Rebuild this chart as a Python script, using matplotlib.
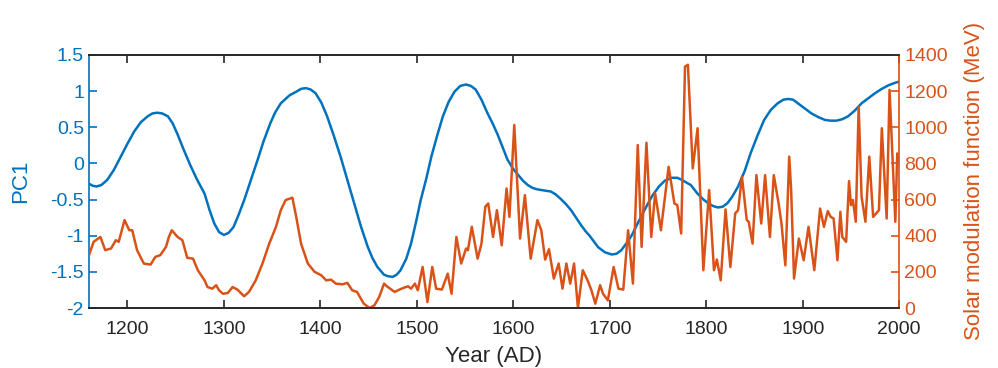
import numpy as np
import matplotlib
matplotlib.use('Agg')
from matplotlib import pyplot as plt

plt.rcParams['font.family'] = ['Liberation Sans', 'DejaVu Sans']

# PC1 (left axis)
pc_year = [1160, 1164, 1168, 1173, 1179, 1186, 1193, 1200, 1207, 1214,
           1221, 1226, 1231, 1236, 1242, 1247, 1252, 1258, 1265, 1272,
           1280, 1285, 1290, 1295, 1300, 1305, 1310, 1315, 1321, 1328,
           1335, 1341, 1348, 1353, 1359, 1368, 1375, 1380, 1385, 1390,
           1395, 1401, 1407, 1414, 1421, 1428, 1435, 1442, 1449, 1454,
           1459, 1466, 1470, 1475, 1479, 1483, 1489, 1494, 1499, 1504,
           1510, 1515, 1521, 1527, 1533, 1539, 1545, 1551, 1556, 1561,
           1567, 1573, 1579, 1584, 1589, 1594, 1600, 1605, 1610, 1615,
           1620, 1625, 1632, 1639, 1644, 1649, 1655, 1660, 1665, 1670,
           1675, 1679, 1684, 1688, 1695, 1702, 1707, 1712, 1717, 1723,
           1730, 1737, 1744, 1751, 1757, 1764, 1770, 1775, 1780, 1784,
           1791, 1797, 1802, 1807, 1812, 1817, 1822, 1827, 1833, 1840,
           1846, 1853, 1860, 1867, 1874, 1880, 1885, 1890, 1895, 1902,
           1909, 1916, 1923, 1929, 1935, 1941, 1947, 1954, 1961, 1968,
           1975, 1982, 1989, 1995, 2000]
pc1 = [-0.28, -0.31, -0.32, -0.30, -0.23, -0.09, 0.09, 0.27, 0.44, 0.57,
       0.65, 0.69, 0.70, 0.69, 0.65, 0.55, 0.40, 0.20, -0.02, -0.22,
       -0.42, -0.64, -0.83, -0.95, -0.99, -0.96, -0.88, -0.72, -0.51, -0.23,
       0.05, 0.30, 0.55, 0.70, 0.83, 0.94, 0.99, 1.03, 1.04, 1.02,
       0.97, 0.84, 0.65, 0.38, 0.09, -0.23, -0.55, -0.87, -1.15, -1.31,
       -1.43, -1.54, -1.56, -1.57, -1.54, -1.48, -1.32, -1.11, -0.82, -0.51,
       -0.20, 0.09, 0.38, 0.65, 0.85, 0.99, 1.07, 1.09, 1.07, 1.02,
       0.88, 0.70, 0.54, 0.39, 0.22, 0.05, -0.08, -0.16, -0.24, -0.30,
       -0.34, -0.36, -0.375, -0.39, -0.43, -0.49, -0.57, -0.65, -0.75, -0.85,
       -0.94, -1.00, -1.09, -1.16, -1.23, -1.26, -1.25, -1.20, -1.11, -0.99,
       -0.80, -0.62, -0.45, -0.32, -0.24, -0.20, -0.20, -0.23, -0.27, -0.30,
       -0.42, -0.50, -0.55, -0.59, -0.61, -0.60, -0.55, -0.46, -0.32, -0.10,
       0.14, 0.38, 0.60, 0.74, 0.83, 0.88, 0.89, 0.88, 0.83, 0.76,
       0.69, 0.64, 0.60, 0.59, 0.59, 0.61, 0.65, 0.73, 0.83, 0.90,
       0.97, 1.03, 1.08, 1.11, 1.13]

# solar modulation function (right axis, MeV)
sm_year = [1160, 1165, 1172, 1177, 1183, 1188, 1191, 1197, 1202, 1205,
           1210, 1217, 1224, 1229, 1234, 1240, 1243, 1246, 1252, 1257,
           1262, 1268, 1273, 1280, 1283, 1288, 1292, 1295, 1299, 1304,
           1309, 1314, 1321, 1326, 1333, 1340, 1347, 1354, 1359, 1364,
           1371, 1375, 1380, 1387, 1394, 1401, 1406, 1411, 1416, 1423,
           1428, 1433, 1438, 1445, 1451, 1456, 1461, 1466, 1469, 1477,
           1482, 1487, 1491, 1494, 1498, 1501, 1506, 1511, 1516, 1520,
           1526, 1532, 1536, 1541, 1546, 1551, 1553, 1557, 1563, 1567,
           1571, 1574, 1579, 1583, 1588, 1593, 1596, 1601, 1607, 1612,
           1618, 1625, 1629, 1633, 1637, 1642, 1647, 1651, 1655, 1659,
           1663, 1667, 1672, 1677, 1681, 1685, 1690, 1693, 1698, 1704,
           1709, 1714, 1719, 1724, 1729, 1733, 1738, 1743, 1747, 1753,
           1761, 1767, 1770, 1774, 1778, 1781, 1786, 1791, 1797, 1803,
           1808, 1811, 1815, 1820, 1825, 1830, 1833, 1837, 1842, 1844,
           1848, 1852, 1857, 1861, 1866, 1870, 1875, 1878, 1882, 1886,
           1888, 1891, 1896, 1901, 1906, 1912, 1918, 1922, 1926, 1929,
           1932, 1936, 1939, 1941, 1945, 1948, 1950, 1952, 1955, 1958,
           1961, 1965, 1969, 1973, 1979, 1982, 1987, 1990, 1994, 1996,
           1998, 2000]
smf = [290, 366, 393, 320, 329, 375, 366, 486, 430, 430,
       320, 246, 240, 283, 292, 338, 393, 430, 393, 375,
       278, 273, 209, 153, 116, 107, 126, 98, 79, 83,
       116, 102, 65, 89, 153, 246, 356, 449, 541, 597,
       610, 504, 356, 246, 200, 181, 153, 157, 135, 131,
       139, 98, 89, 24, 0, 15, 61, 135, 120, 89,
       102, 113, 120, 107, 135, 98, 227, 33, 227, 107,
       102, 190, 79, 393, 246, 329, 320, 449, 273, 356,
       560, 578, 393, 541, 347, 661, 504, 1012, 384, 624,
       273, 486, 430, 268, 325, 163, 246, 107, 246, 135,
       246, 0, 209, 153, 98, 24, 126, 79, 42, 227,
       107, 102, 430, 135, 901, 338, 914, 393, 634, 430,
       781, 578, 569, 412, 1335, 1345, 772, 994, 209, 652,
       209, 268, 153, 545, 227, 523, 541, 726, 486, 477,
       356, 735, 467, 735, 393, 735, 578, 467, 236, 837,
       652, 163, 384, 264, 449, 209, 550, 449, 536, 504,
       495, 264, 532, 393, 366, 702, 569, 597, 477, 1114,
       615, 477, 837, 504, 541, 994, 495, 1206, 726, 477,
       855, 800]

blue = '#0072BD'
orange = '#D95319'
dark = '#262626'

fig, ax1 = plt.subplots(figsize=(9.98, 3.68), dpi=100)
fig.subplots_adjust(left=0.089, right=0.901, bottom=0.163, top=0.851)
ax2 = ax1.twinx()

ax1.plot(pc_year, pc1, color=blue, lw=1.8, solid_joinstyle='round')
ax2.plot(sm_year, smf, color=orange, lw=1.8, solid_joinstyle='round')

ax1.set_xlim(1160, 2000)
ax1.set_ylim(-2, 1.5)
ax2.set_ylim(0, 1400)

ax1.set_xticks(np.arange(1200, 2001, 100))
yt = np.arange(-2, 1.51, 0.5)
ax1.set_yticks(yt)
ax1.set_yticklabels(['%g' % v for v in yt])
ax2.set_yticks(np.arange(0, 1401, 200))

ax1.tick_params(axis='x', direction='in', top=True, length=6, width=1.2,
                colors=dark, labelsize=14, pad=9)
ax1.tick_params(axis='y', direction='in', length=6, width=1.2,
                colors=blue, labelsize=14)
ax2.tick_params(axis='y', direction='in', length=6, width=1.2,
                colors=orange, labelsize=14)

for ax in (ax1, ax2):
    ax.spines['top'].set_color(dark)
    ax.spines['bottom'].set_color(dark)
    for s in ax.spines.values():
        s.set_linewidth(1.2)
ax1.spines['left'].set_color(blue)
ax1.spines['right'].set_visible(False)
ax2.spines['left'].set_visible(False)
ax2.spines['right'].set_color(orange)

ax1.set_xlabel('Year (AD)', fontsize=16, color=dark, labelpad=6)
ax1.set_ylabel('PC1', fontsize=16, color=blue, labelpad=14)
ax2.set_ylabel('Solar modulation function (MeV)', fontsize=16,
               color=orange, rotation=90, labelpad=12)

fig.savefig('out.png', dpi=100)
